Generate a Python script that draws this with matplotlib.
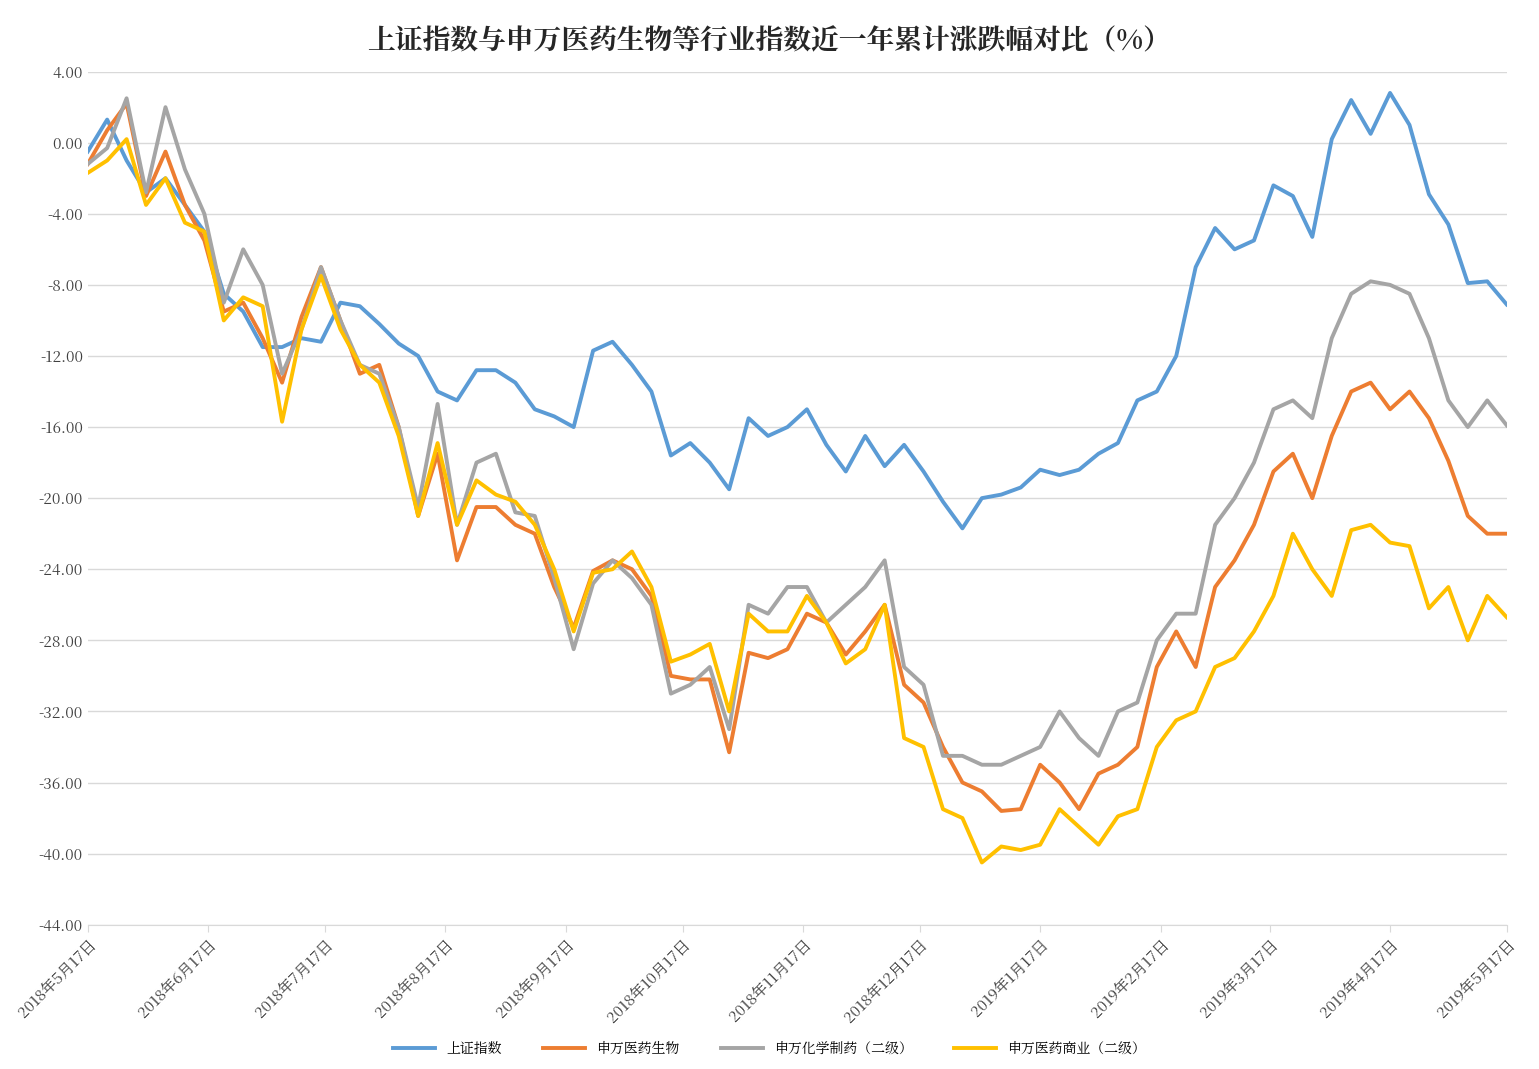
import datetime as dt
import matplotlib
matplotlib.use("Agg")
import matplotlib.pyplot as plt
from matplotlib import font_manager as fm

# find a CJK font file and register it explicitly
cjk_name = "Noto Sans CJK SC"
for path in fm.findSystemFonts():
    if "CJK" in path and ("Regular" in path or "Bold" in path):
        try:
            fm.fontManager.addfont(path)
            cjk_name = fm.FontProperties(fname=path).get_name()
        except Exception:
            pass
plt.rcParams["font.family"] = [cjk_name, "Noto Sans CJK SC", "Noto Sans CJK JP", "DejaVu Sans"]

start = dt.date(2018, 5, 17)
dates = [start + dt.timedelta(days=5 * k) for k in range(73)] + [dt.date(2019, 5, 17)]

sh_index = [-0.5, 1.3, -1.0, -2.8, -2.0, -3.5, -5.0, -8.5, -9.5, -11.5,
            -11.5, -11.0, -11.2, -9.0, -9.2, -10.2, -11.3, -12.0, -14.0, -14.5,
            -12.8, -12.8, -13.5, -15.0, -15.4, -16.0, -11.7, -11.2, -12.5, -14.0,
            -17.6, -16.9, -18.0, -19.5, -15.5, -16.5, -16.0, -15.0, -17.0, -18.5,
            -16.5, -18.2, -17.0, -18.5, -20.2, -21.7, -20.0, -19.8, -19.4, -18.4,
            -18.7, -18.4, -17.5, -16.9, -14.5, -14.0, -12.0, -7.0, -4.8, -6.0,
            -5.5, -2.4, -3.0, -5.3, 0.2, 2.4, 0.5, 2.8, 1.0, -2.9,
            -4.6, -7.9, -7.8, -9.1]
sw_pharma = [-1.2, 0.7, 2.2, -3.0, -0.5, -3.5, -5.5, -9.5, -9.0, -11.0,
             -13.5, -9.8, -7.0, -10.0, -13.0, -12.5, -16.0, -21.0, -17.5, -23.5,
             -20.5, -20.5, -21.5, -22.0, -25.0, -27.3, -24.1, -23.5, -24.0, -25.5,
             -30.0, -30.2, -30.2, -34.3, -28.7, -29.0, -28.5, -26.5, -27.0, -28.8,
             -27.5, -26.0, -30.5, -31.5, -34.0, -36.0, -36.5, -37.6, -37.5, -35.0,
             -36.0, -37.5, -35.5, -35.0, -34.0, -29.5, -27.5, -29.5, -25.0, -23.5,
             -21.5, -18.5, -17.5, -20.0, -16.5, -14.0, -13.5, -15.0, -14.0, -15.5,
             -17.9, -21.0, -22.0, -22.0]
sw_chem = [-1.2, -0.3, 2.5, -2.8, 2.0, -1.5, -4.0, -9.0, -6.0, -8.0,
           -13.0, -10.5, -7.0, -10.0, -12.5, -13.0, -16.0, -20.5, -14.7, -21.5,
           -18.0, -17.5, -20.8, -21.0, -24.5, -28.5, -24.8, -23.5, -24.5, -26.0,
           -31.0, -30.5, -29.5, -33.0, -26.0, -26.5, -25.0, -25.0, -27.0, -26.0,
           -25.0, -23.5, -29.5, -30.5, -34.5, -34.5, -35.0, -35.0, -34.5, -34.0,
           -32.0, -33.5, -34.5, -32.0, -31.5, -28.0, -26.5, -26.5, -21.5, -20.0,
           -18.0, -15.0, -14.5, -15.5, -11.0, -8.5, -7.8, -8.0, -8.5, -11.0,
           -14.5, -16.0, -14.5, -15.9]
sw_comm = [-1.7, -1.0, 0.2, -3.5, -2.0, -4.5, -5.0, -10.0, -8.7, -9.2,
           -15.7, -10.5, -7.5, -10.5, -12.5, -13.5, -16.5, -21.0, -16.9, -21.5,
           -19.0, -19.8, -20.2, -21.5, -24.0, -27.5, -24.2, -24.0, -23.0, -25.0,
           -29.2, -28.8, -28.2, -32.0, -26.5, -27.5, -27.5, -25.5, -27.0, -29.3,
           -28.5, -26.0, -33.5, -34.0, -37.5, -38.0, -40.5, -39.6, -39.8, -39.5,
           -37.5, -38.5, -39.5, -37.9, -37.5, -34.0, -32.5, -32.0, -29.5, -29.0,
           -27.5, -25.5, -22.0, -24.0, -25.5, -21.8, -21.5, -22.5, -22.7, -26.2,
           -25.0, -28.0, -25.5, -26.7]

series = [("上证指数", sh_index, "#5b9bd5"),
          ("申万医药生物", sw_pharma, "#ed7d31"),
          ("申万化学制药（二级）", sw_chem, "#a5a5a5"),
          ("申万医药商业（二级）", sw_comm, "#ffc000")]

fig = plt.figure(figsize=(15.39, 10.69), dpi=100)
ax = fig.add_axes([0.057, 0.135, 0.922, 0.798])
for name, vals, c in series:
    ax.plot(dates, vals, color=c, lw=2.8, label=name)

ax.set_ylim(-44, 4)
ax.set_yticks(range(-44, 5, 4))
ax.set_yticklabels(["%.2f" % v for v in range(-44, 5, 4)], fontsize=11, color="#404040")
ticks = [dt.date(2018 + (m - 1) // 12, (m - 1) % 12 + 1, 17) for m in range(5, 18)]
ax.set_xticks(ticks)
ax.set_xticklabels(["%d年%d月%d日" % (t.year, t.month, t.day) for t in ticks],
                   rotation=45, ha="right", rotation_mode="anchor", fontsize=11, color="#404040")
ax.set_xlim(start, dt.date(2019, 5, 17))
ax.grid(axis="y", color="#d9d9d9", lw=1)
ax.set_axisbelow(True)
for s in ["top", "right", "left"]:
    ax.spines[s].set_visible(False)
ax.spines["bottom"].set_color("#d9d9d9")
ax.tick_params(length=0)
ax.tick_params(axis="x", length=5, color="#d9d9d9")

fig.suptitle("上证指数与申万医药生物等行业指数近一年累计涨跌幅对比（%）", y=0.975,
             fontsize=20, fontweight="bold", color="#262626")
fig.legend(loc="lower center", ncol=4, frameon=False, fontsize=10,
           bbox_to_anchor=(0.5, 0.0), handlelength=3, columnspacing=3)
fig.savefig("out.png")
